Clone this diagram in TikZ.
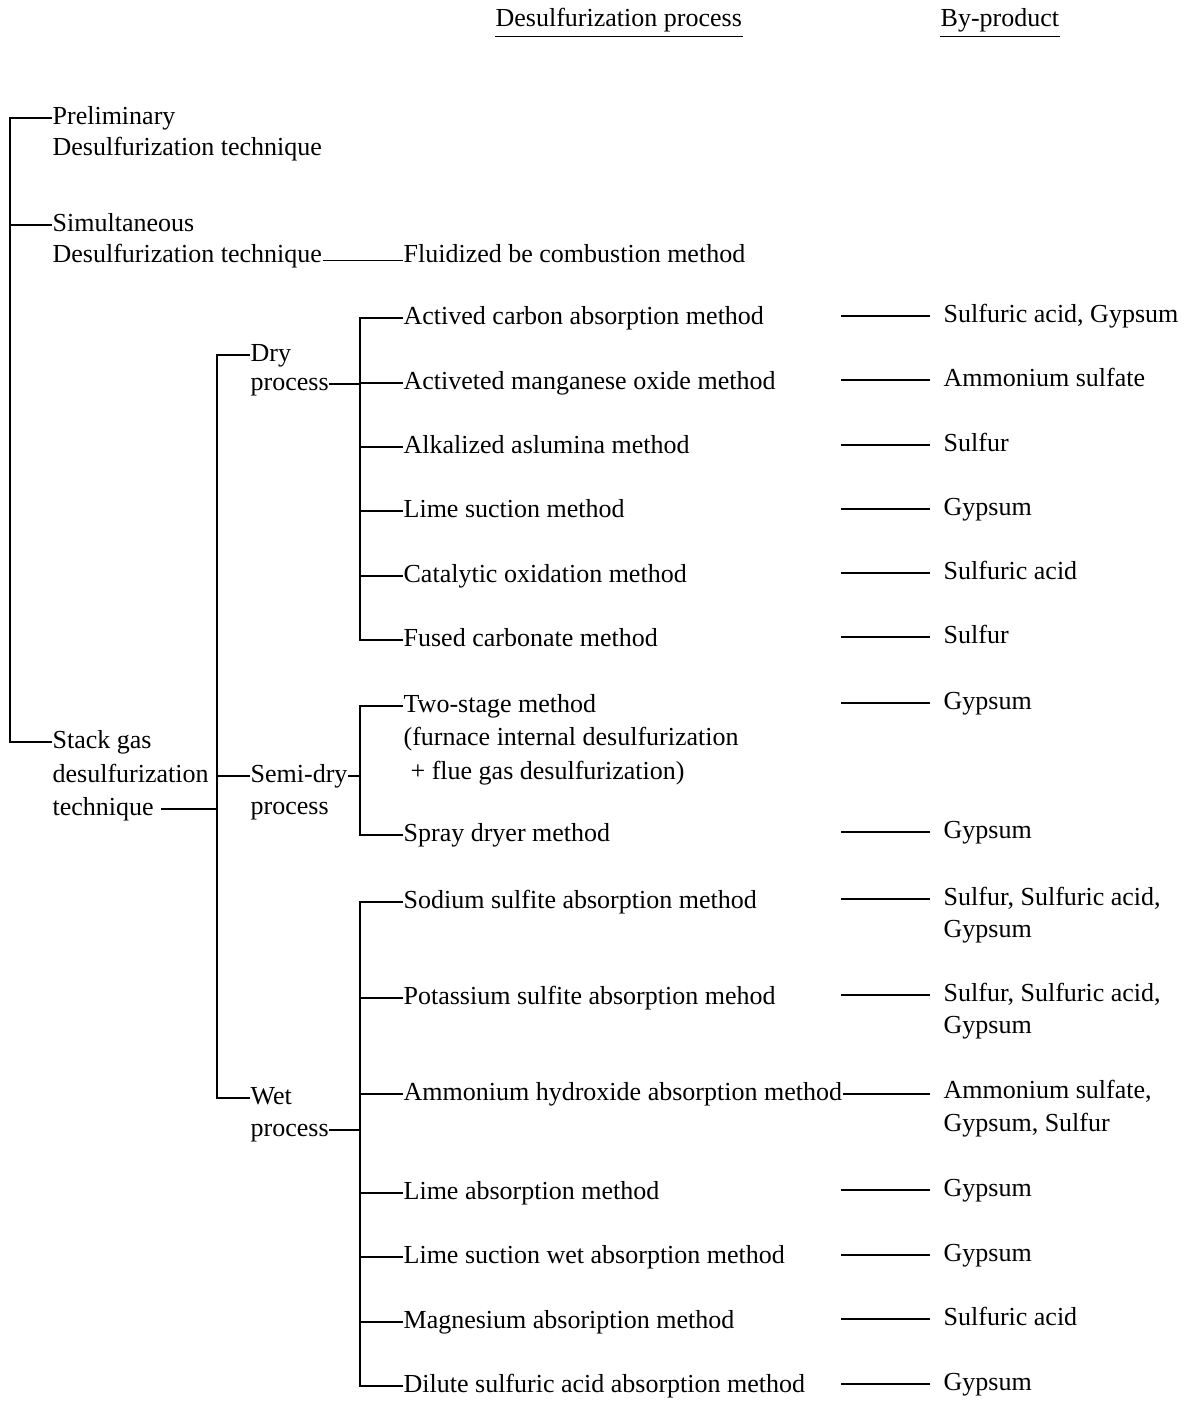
\documentclass[tikz,border=0pt]{standalone}
\usepackage{fontspec}
\setmainfont{Liberation Serif}
\begin{document}
\begin{tikzpicture}[x=1pt,y=-1pt,line width=1.3pt,
  lbl/.style={anchor=west,inner sep=0pt,font=\fontsize{26}{31}\selectfont,
              text height=18pt,text depth=5pt},
  rule/.style={line width=1.2pt}]
\useasboundingbox (0,0) rectangle (1192,1401);

% column headings
\node[lbl] (hproc) at (495,20) {Desulfurization process};
\node[lbl] (hbyp)  at (940,20) {By-product};
\draw[rule] ([yshift=-4.5pt]hproc.south west) -- ([yshift=-4.5pt]hproc.south east);
\draw[rule] ([yshift=-4.5pt]hbyp.south west) -- ([yshift=-4.5pt]hbyp.south east);

% trunk positions
\coordinate (trA) at (10,0);
\coordinate (trB) at (217,0);
\coordinate (trC) at (360,0);
\coordinate (bpS) at (841,0);
\coordinate (bpE) at (930,0);

% level 1: techniques
\node[lbl] (pre1) at (52,118) {Preliminary};
\node[lbl] (pre2) at (52,149) {Desulfurization technique};
\node[lbl] (sim1) at (52,225) {Simultaneous};
\node[lbl] (sim2) at (52,256) {Desulfurization technique};
\node[lbl] (fbc)  at (403,256) {Fluidized be combustion method};
\node[lbl] (stk1) at (52,742) {Stack gas};
\node[lbl] (stk2) at (52,776) {desulfurization};
\node[lbl] (stk3) at (52,809) {technique};

\draw (pre1.west) -- (pre1.west -| trA) -- (stk1.west -| trA) -- (stk1.west);
\draw (sim1.west) -- (sim1.west -| trA);
\draw ([yshift=2pt]sim2.base east) -- ([yshift=2pt]fbc.base west);

% level 2: processes
\node[lbl] (dry1) at (250,355) {Dry};
\node[lbl] (dry2) at (250,384) {process};
\node[lbl] (sem1) at (250,776) {Semi-dry};
\node[lbl] (sem2) at (250,808) {process};
\node[lbl] (wet1) at (250,1098) {Wet};
\node[lbl] (wet2) at (250,1130) {process};

\draw ([xshift=7pt]stk3.east) -- (stk3.east -| trB);
\draw (dry1.west) -- (dry1.west -| trB) -- (wet1.west -| trB) -- (wet1.west);
\draw (sem1.west) -- (sem1.west -| trB);

% dry process methods
\node[lbl] (d1) at (403,318) {Actived carbon absorption method};
\node[lbl] (d2) at (403,383) {Activeted manganese oxide method};
\node[lbl] (d3) at (403,447) {Alkalized aslumina method};
\node[lbl] (d4) at (403,511) {Lime suction method};
\node[lbl] (d5) at (403,576) {Catalytic oxidation method};
\node[lbl] (d6) at (403,640) {Fused carbonate method};

\draw (dry2.east) -- (dry2.east -| trC);
\draw (d1.west) -- (d1.west -| trC) -- (d6.west -| trC) -- (d6.west);
\foreach \m in {d2,d3,d4,d5} \draw (\m.west) -- (\m.west -| trC);

% semi-dry process methods
\node[lbl] (s1)  at (403,706) {Two-stage method};
\node[lbl] (s1b) at (403,739) {(furnace internal desulfurization};
\node[lbl] (s1c) at (410,773) {+ flue gas desulfurization)};
\node[lbl] (s2)  at (403,835) {Spray dryer method};

\draw (sem1.east) -- (sem1.east -| trC);
\draw (s1.west) -- (s1.west -| trC) -- (s2.west -| trC) -- (s2.west);

% wet process methods
\node[lbl] (w1) at (403,902)  {Sodium sulfite absorption method};
\node[lbl] (w2) at (403,998)  {Potassium sulfite absorption mehod};
\node[lbl] (w3) at (403,1094) {Ammonium hydroxide absorption method};
\node[lbl] (w4) at (403,1193) {Lime absorption method};
\node[lbl] (w5) at (403,1257) {Lime suction wet absorption method};
\node[lbl] (w6) at (403,1322) {Magnesium absoription method};
\node[lbl] (w7) at (403,1386) {Dilute sulfuric acid absorption method};

\draw (wet2.east) -- (wet2.east -| trC);
\draw (w1.west) -- (w1.west -| trC) -- (w7.west -| trC) -- (w7.west);
\foreach \m in {w2,w3,w4,w5,w6} \draw (\m.west) -- (\m.west -| trC);

% by-products
\node[lbl] (b1)  at (943,316) {Sulfuric acid, Gypsum};
\node[lbl] (b2)  at (943,380) {Ammonium sulfate};
\node[lbl] (b3)  at (943,445) {Sulfur};
\node[lbl] (b4)  at (943,509) {Gypsum};
\node[lbl] (b5)  at (943,573) {Sulfuric acid};
\node[lbl] (b6)  at (943,637) {Sulfur};
\node[lbl] (b7)  at (943,703) {Gypsum};
\node[lbl] (b8)  at (943,832) {Gypsum};
\node[lbl] (b9)  at (943,899) {Sulfur, Sulfuric acid,};
\node[lbl] (b9b) at (943,931) {Gypsum};
\node[lbl] (b10) at (943,995) {Sulfur, Sulfuric acid,};
\node[lbl] (b10b) at (943,1027) {Gypsum};
\node[lbl] (b11) at (943,1092) {Ammonium sulfate,};
\node[lbl] (b11b) at (943,1125) {Gypsum, Sulfur};
\node[lbl] (b12) at (943,1190) {Gypsum};
\node[lbl] (b13) at (943,1255) {Gypsum};
\node[lbl] (b14) at (943,1319) {Sulfuric acid};
\node[lbl] (b15) at (943,1384) {Gypsum};

\foreach \b in {b1,b2,b3,b4,b5,b6,b7,b8,b9,b10,b12,b13,b14,b15}
  \draw (\b.west -| bpE) -- (\b.west -| bpS);
\draw (w3.east) -- (w3.east -| bpE);
\end{tikzpicture}
\end{document}
